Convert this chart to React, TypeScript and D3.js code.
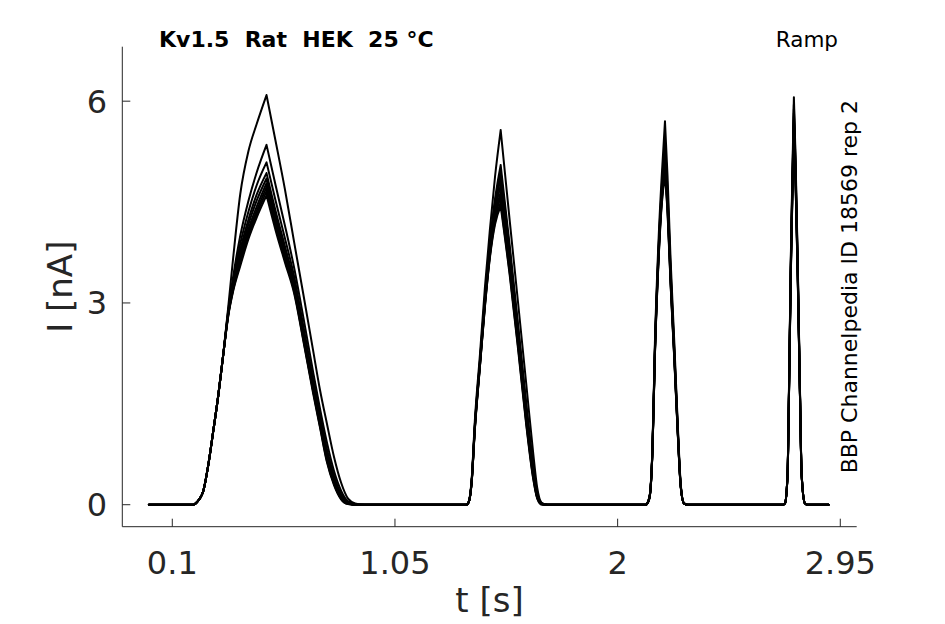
import React from "react";
import * as d3 from "d3";

// ---- axis ticks ----
const xTicks = [0.1, 1.05, 2, 2.95];
const xTickLabels = ["0.1", "1.05", "2", "2.95"];
const yTicks = [0, 3, 6];
const yTickLabels = ["0", "3", "6"];

// ---- time keypoints (s) ----
const startT = [0.0, 0.19];
const peak1FootT = [0.2, 0.215, 0.232, 0.254, 0.275, 0.296, 0.318];
const peak1FootI = [0.02, 0.08, 0.2, 0.6, 1.1, 1.62, 2.25];
const peak1UpperT = [0.339, 0.36, 0.39, 0.425, 0.46, 0.502];
const peak1FallT = [0.54, 0.58, 0.62, 0.66, 0.7, 0.73, 0.76, 0.79, 0.82, 0.85, 0.88, 0.92];
const peak2RiseT = [1.355, 1.365, 1.377, 1.391, 1.413, 1.434, 1.455, 1.477, 1.501];
const peak2FallT = [1.54, 1.575, 1.61, 1.64, 1.657, 1.676, 1.7];
const peak3RiseT = [2.12, 2.13, 2.138, 2.149, 2.159, 2.174, 2.188, 2.202];
const peak3FallT = [2.213, 2.226, 2.242, 2.257, 2.269, 2.283, 2.3];
const peak4RiseT = [2.705, 2.714, 2.725, 2.731, 2.739, 2.747, 2.752];
const peak4FallT = [2.759, 2.768, 2.778, 2.785, 2.799, 2.81];
const endT = 2.9;

// ---- current values (nA), one row per sweep ----
const peak1Upper = [
  [2.95, 3.68, 4.62, 5.26, 5.66, 6.09],
  [2.9, 3.4, 4.0, 4.52, 4.94, 5.35],
  [2.88, 3.34, 3.88, 4.36, 4.75, 5.09],
  [2.86, 3.3, 3.79, 4.24, 4.61, 4.93],
  [2.85, 3.27, 3.73, 4.17, 4.52, 4.85],
  [2.84, 3.24, 3.67, 4.1, 4.43, 4.78],
  [2.83, 3.22, 3.63, 4.05, 4.37, 4.72],
  [2.82, 3.2, 3.59, 4.0, 4.32, 4.66],
  [2.81, 3.18, 3.55, 3.95, 4.27, 4.6],
];
const peak1Fall = [
  [5.42, 4.7, 3.9, 3.11, 2.31, 1.71, 1.2, 0.71, 0.33, 0.09, 0.02, 0],
  [4.76, 4.16, 3.52, 2.77, 1.99, 1.43, 0.92, 0.5, 0.21, 0.05, 0.01, 0],
  [4.53, 3.97, 3.39, 2.64, 1.88, 1.34, 0.82, 0.43, 0.16, 0.04, 0, 0],
  [4.38, 3.85, 3.31, 2.57, 1.81, 1.28, 0.76, 0.38, 0.14, 0.03, 0, 0],
  [4.31, 3.79, 3.27, 2.53, 1.78, 1.25, 0.73, 0.36, 0.12, 0.02, 0, 0],
  [4.25, 3.74, 3.23, 2.5, 1.75, 1.22, 0.7, 0.34, 0.11, 0.02, 0, 0],
  [4.2, 3.7, 3.2, 2.47, 1.72, 1.2, 0.68, 0.32, 0.1, 0.02, 0, 0],
  [4.14, 3.65, 3.17, 2.44, 1.7, 1.17, 0.65, 0.31, 0.09, 0.01, 0, 0],
  [4.09, 3.61, 3.14, 2.42, 1.67, 1.15, 0.63, 0.29, 0.08, 0.01, 0, 0],
];
const peak2Rise = [
  [0, 0.05, 0.37, 1.26, 2.25, 3.24, 4.09, 4.88, 5.57],
  [0, 0.04, 0.35, 1.2, 2.17, 3.1, 3.9, 4.55, 5.05],
  [0, 0.04, 0.34, 1.19, 2.15, 3.08, 3.86, 4.49, 4.95],
  [0, 0.04, 0.34, 1.17, 2.13, 3.05, 3.82, 4.43, 4.85],
  [0, 0.04, 0.33, 1.16, 2.12, 3.03, 3.79, 4.36, 4.75],
  [0, 0.04, 0.33, 1.15, 2.1, 3.0, 3.75, 4.3, 4.65],
  [0, 0.04, 0.33, 1.14, 2.09, 2.98, 3.72, 4.26, 4.58],
  [0, 0.04, 0.32, 1.13, 2.08, 2.96, 3.69, 4.21, 4.5],
  [0, 0.04, 0.32, 1.12, 2.07, 2.95, 3.67, 4.17, 4.44],
];
const peak2Fall = [
  [4.21, 3.01, 1.8, 0.76, 0.25, 0.03, 0],
  [3.84, 2.69, 1.52, 0.58, 0.18, 0.02, 0],
  [3.77, 2.63, 1.46, 0.55, 0.16, 0.02, 0],
  [3.69, 2.57, 1.41, 0.52, 0.15, 0.01, 0],
  [3.62, 2.51, 1.35, 0.48, 0.13, 0.01, 0],
  [3.55, 2.45, 1.3, 0.45, 0.12, 0.01, 0],
  [3.5, 2.41, 1.26, 0.43, 0.11, 0.01, 0],
  [3.44, 2.36, 1.22, 0.4, 0.1, 0.01, 0],
  [3.4, 2.32, 1.19, 0.38, 0.09, 0, 0],
];
const peak3Rise = [
  [0, 0.05, 0.17, 0.91, 2.4, 3.89, 4.88, 5.7],
  [0, 0.05, 0.16, 0.88, 2.33, 3.77, 4.72, 5.4],
  [0, 0.04, 0.16, 0.87, 2.3, 3.74, 4.67, 5.3],
  [0, 0.04, 0.15, 0.86, 2.28, 3.7, 4.62, 5.22],
  [0, 0.04, 0.15, 0.86, 2.27, 3.68, 4.59, 5.15],
  [0, 0.04, 0.15, 0.85, 2.25, 3.65, 4.55, 5.08],
  [0, 0.04, 0.15, 0.84, 2.24, 3.63, 4.52, 5.02],
  [0, 0.04, 0.15, 0.84, 2.22, 3.6, 4.49, 4.96],
  [0, 0.04, 0.14, 0.83, 2.21, 3.58, 4.45, 4.9],
];
const peak3Fall = [
  [4.88, 3.64, 2.4, 1.16, 0.32, 0.02, 0],
  [4.67, 3.5, 2.3, 1.11, 0.3, 0.02, 0],
  [4.6, 3.45, 2.27, 1.09, 0.29, 0.02, 0],
  [4.55, 3.42, 2.25, 1.07, 0.29, 0.02, 0],
  [4.5, 3.38, 2.22, 1.06, 0.28, 0.02, 0],
  [4.45, 3.35, 2.2, 1.05, 0.28, 0.02, 0],
  [4.41, 3.32, 2.18, 1.04, 0.28, 0.02, 0],
  [4.37, 3.29, 2.16, 1.03, 0.27, 0.02, 0],
  [4.33, 3.27, 2.14, 1.02, 0.27, 0.02, 0],
];
const peak4Rise = [
  [0, 0.02, 0.47, 1.71, 3.69, 5.18, 6.06],
  [0, 0.02, 0.46, 1.68, 3.63, 5.09, 5.95],
  [0, 0.02, 0.46, 1.66, 3.59, 5.03, 5.88],
  [0, 0.02, 0.45, 1.65, 3.56, 4.98, 5.82],
  [0, 0.02, 0.45, 1.64, 3.53, 4.94, 5.77],
  [0, 0.02, 0.45, 1.63, 3.5, 4.9, 5.72],
  [0, 0.02, 0.44, 1.62, 3.48, 4.86, 5.68],
  [0, 0.02, 0.44, 1.61, 3.45, 4.83, 5.64],
  [0, 0.02, 0.44, 1.6, 3.43, 4.8, 5.6],
];
const peak4Fall = [
  [5.18, 3.69, 1.71, 0.47, 0.02, 0],
  [5.09, 3.63, 1.68, 0.46, 0.02, 0],
  [5.03, 3.59, 1.66, 0.46, 0.02, 0],
  [4.98, 3.56, 1.65, 0.45, 0.02, 0],
  [4.94, 3.53, 1.64, 0.45, 0.02, 0],
  [4.9, 3.5, 1.63, 0.45, 0.02, 0],
  [4.86, 3.48, 1.62, 0.44, 0.02, 0],
  [4.83, 3.45, 1.61, 0.44, 0.02, 0],
  [4.8, 3.43, 1.6, 0.44, 0.02, 0],
];

const W = 945;
const H = 624;

type Pt = [number, number];

function zipPts(ts: number[], vs: number[]): Pt[] {
  return ts.map((t, i) => [t, vs[i]] as Pt);
}

function buildSweep(i: number): Pt[][] {
  const pts: Pt[] = [
    ...startT.map((t) => [t, 0] as Pt),
    ...zipPts(peak1FootT, peak1FootI),
    ...zipPts(peak1UpperT, peak1Upper[i]),
    ...zipPts(peak1FallT, peak1Fall[i]),
    ...zipPts(peak2RiseT, peak2Rise[i]),
    ...zipPts(peak2FallT, peak2Fall[i]),
    ...zipPts(peak3RiseT, peak3Rise[i]),
    ...zipPts(peak3FallT, peak3Fall[i]),
    ...zipPts(peak4RiseT, peak4Rise[i]),
    ...zipPts(peak4FallT, peak4Fall[i]),
    [endT, 0],
  ];
  const apexTimes = [
    peak1UpperT[peak1UpperT.length - 1],
    peak2RiseT[peak2RiseT.length - 1],
    peak3RiseT[peak3RiseT.length - 1],
    peak4RiseT[peak4RiseT.length - 1],
  ];
  const segs: Pt[][] = [];
  let cur: Pt[] = [];
  pts.forEach((p) => {
    cur.push(p);
    if (apexTimes.includes(p[0])) {
      segs.push(cur);
      cur = [p];
    }
  });
  segs.push(cur);
  return segs;
}

export default function App() {
  const x = d3.scaleLinear().domain([-0.1133, 3.02]).range([122.3, 856.7]);
  const y = d3.scaleLinear().domain([-0.327, 6.81]).range([526.7, 46.7]);
  const line = d3
    .line<Pt>()
    .x((d) => x(d[0]))
    .y((d) => y(d[1]))
    .curve(d3.curveMonotoneX);

  const nSweeps = peak1Upper.length;
  const order = d3.range(nSweeps).reverse();
  const axisColor = "#262626";
  const font = "'DejaVu Sans', sans-serif";

  return (
    <svg
      width={W}
      height={H}
      style={{ position: "absolute", left: 0, top: 0, background: "#fff" }}
      fontFamily={font}
    >
      <rect x={0} y={0} width={W} height={H} fill="#fff" />
      {/* traces */}
      <g fill="none" stroke="#000" strokeWidth={2} strokeLinejoin="round" strokeLinecap="round">
        {order.map((i) => (
          <path key={i} d={buildSweep(i).map((s) => line(s) || "").join("")} />
        ))}
      </g>
      {/* axes */}
      <g stroke={axisColor} strokeWidth={1} fill="none">
        <line x1={x.range()[0]} x2={x.range()[0]} y1={y.range()[0]} y2={y.range()[1]} />
        <line x1={x.range()[0]} x2={x.range()[1]} y1={y.range()[0]} y2={y.range()[0]} />
        {xTicks.map((t) => (
          <line key={t} x1={x(t)} x2={x(t)} y1={y.range()[0]} y2={y.range()[0] - 8} />
        ))}
        {yTicks.map((t) => (
          <line key={t} x1={x.range()[0]} x2={x.range()[0] + 8} y1={y(t)} y2={y(t)} />
        ))}
      </g>
      <g fill={axisColor} fontSize={32}>
        {xTicks.map((t, i) => (
          <text key={t} x={x(t)} y={574} textAnchor="middle">
            {xTickLabels[i]}
          </text>
        ))}
        {yTicks.map((t, i) => (
          <text key={t} x={107} y={y(t)} dy="0.36em" textAnchor="end">
            {yTickLabels[i]}
          </text>
        ))}
      </g>
      <g fill={axisColor} fontSize={34}>
        <text x={(x.range()[0] + x.range()[1]) / 2} y={612} textAnchor="middle">
          t [s]
        </text>
        <text transform={`translate(72,${(y.range()[0] + y.range()[1]) / 2}) rotate(-90)`} textAnchor="middle">
          I [nA]
        </text>
      </g>
      <text x={159} y={46.5} fontSize={22} fontWeight="bold" fill="#000" style={{ whiteSpace: "pre" }}>
        {"Kv1.5  Rat  HEK  25 °C"}
      </text>
      <text x={838} y={46.5} fontSize={21.5} fill="#000" textAnchor="end">
        Ramp
      </text>
      <text
        transform={`translate(857,${(y.range()[0] + y.range()[1]) / 2}) rotate(-90)`}
        fontSize={22}
        fill="#000"
        textAnchor="middle"
      >
        BBP Channelpedia ID 18569 rep 2
      </text>
    </svg>
  );
}
